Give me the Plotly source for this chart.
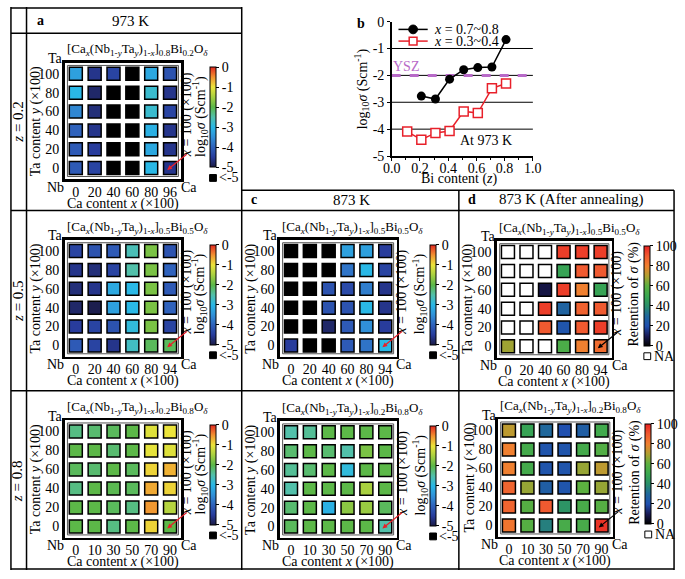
import plotly.graph_objects as go

W, H = 685, 579
FONT = "Liberation Serif"

# ---------------- data ----------------
ta_labels = ["0", "20", "40", "60", "80", "100"]            # Ta content y (x100), bottom -> top
ca_labels_z02 = ["0", "20", "40", "60", "80", "96"]         # Ca content x (x100)
ca_labels_z05 = ["0", "20", "40", "60", "80", "94"]
ca_labels_z08 = ["0", "10", "30", "50", "70", "90"]

LOW = None   # log10(sigma) < -5  -> black cell
NA = None    # retention not available -> white cell

# rows listed from Ta = 100 (top) down to Ta = 0 (bottom)
logsig_973K_z02 = [
    [-3.3, -4.6, -4.4, LOW, -3.2, -4.2],
    [-3.0, -4.8, LOW, LOW, -2.8, -4.6],
    [-3.6, -4.7, LOW, LOW, -2.8, -4.4],
    [-4.0, -4.6, LOW, LOW, -3.1, -4.6],
    [-4.1, -4.5, LOW, LOW, -3.2, -4.6],
    [-4.1, -4.4, LOW, LOW, -3.0, -4.6],
]
logsig_973K_z05 = [
    [-4.4, -4.2, -4.1, -2.6, -1.8, -4.2],
    [-4.6, -4.7, -4.4, -2.5, -1.8, -4.0],
    [-4.7, -4.6, -3.2, -3.0, -1.8, -4.1],
    [-4.8, -4.95, -3.3, -3.0, -1.8, -4.0],
    [-4.5, -4.4, -4.2, -2.9, -1.8, -4.4],
    [-4.1, -4.4, -4.6, -2.7, -2.1, -2.1],
]
logsig_973K_z08 = [
    [-2.3, -2.2, -2.1, -2.0, -1.1, -1.0],
    [-2.0, -2.0, -2.2, -2.0, -1.05, -1.1],
    [-2.1, -2.2, -2.0, -2.1, -0.9, -0.7],
    [-2.3, -2.0, -2.05, -2.1, -0.65, -0.9],
    [-2.0, -2.0, -2.1, -2.3, -0.55, -1.4],
    [-2.0, -2.0, -2.3, -2.0, -0.9, -2.0],
]
logsig_873K_z05 = [
    [LOW, LOW, LOW, -3.3, -3.3, -4.5],
    [LOW, LOW, LOW, -3.8, -3.0, -4.4],
    [LOW, LOW, -4.2, -4.3, -3.7, -4.6],
    [LOW, LOW, -4.2, -4.2, -3.0, -4.6],
    [LOW, LOW, -4.8, -4.1, -3.5, -4.5],
    [-4.5, LOW, LOW, -4.1, -3.8, -3.0],
]
logsig_873K_z08 = [
    [-2.5, -2.4, -2.0, -2.0, -2.0, -2.0],
    [-2.2, -2.0, -2.2, -2.5, -1.8, -2.0],
    [-2.4, -2.2, -2.0, -2.9, -2.0, -2.0],
    [-2.5, -2.0, -2.0, -2.0, -1.5, -2.0],
    [-2.2, -2.0, -3.1, -1.7, -1.6, -2.1],
    [-2.1, -2.0, -2.0, -2.0, -2.0, -2.5],
]
retention_873K_z05 = [
    [NA, NA, NA, 95, 95, 95],
    [NA, NA, NA, 48, 90, 90],
    [NA, NA, 8, 95, 80, 48],
    [NA, NA, 95, 28, 88, 90],
    [NA, NA, 90, 22, 90, 95],
    [68, NA, NA, 55, 80, 85],
]
retention_873K_z08 = [
    [72, 48, 30, 20, 26, 52],
    [80, 53, 22, 22, 53, 57],
    [80, 53, 22, 22, 67, 72],
    [87, 67, 26, 22, 60, 67],
    [87, 58, 90, 42, 54, 58],
    [83, 58, 36, 54, 54, 97],
]

bi_z_high_ca = [0.21, 0.31, 0.41, 0.51, 0.61, 0.71, 0.81]
logsig_high_ca = [-2.77, -2.88, -2.14, -1.79, -1.71, -1.69, -0.67]
bi_z_low_ca = [0.11, 0.21, 0.31, 0.41, 0.51, 0.61, 0.71, 0.81]
logsig_low_ca = [-4.09, -4.39, -4.14, -4.07, -3.34, -3.40, -2.48, -2.30]
ysz_logsig = -2.0
ysz_z_span = [0.0, 1.0]

log_ticks = [0, -1, -2, -3, -4, -5]
ret_ticks = [100, 80, 60, 40, 20, 0]

# ---------------- styling ----------------
LOG_SCALE = [
    [0.0, "#1b1b45"], [0.1, "#283c9c"], [0.2, "#2f62bc"], [0.3, "#3090d8"],
    [0.4, "#2ab8e6"], [0.5, "#52c0aa"], [0.6, "#5cb848"], [0.7, "#a8d040"],
    [0.8, "#ece43a"], [0.9, "#f29030"], [1.0, "#e42820"],
]
RET_SCALE = [
    [0.0, "#000000"], [0.1, "#1a1a55"], [0.2, "#2050b0"], [0.3, "#20689c"],
    [0.4, "#2a8f6a"], [0.5, "#3aa850"], [0.6, "#5cb040"], [0.7, "#b0a030"],
    [0.8, "#f08030"], [0.9, "#f05a30"], [1.0, "#e82222"],
]
RED = "#e8202a"
PURPLE = "#b86ac8"


def px(x):
    return x / W


def py(y):
    return 1 - y / H


def formula(a, b):
    return ("[Ca<sub><i>x</i></sub>(Nb<sub>1-<i>y</i></sub>Ta<sub><i>y</i></sub>)"
            f"<sub>1-<i>x</i></sub>]<sub>{a}</sub>Bi<sub>{b}</sub>O<sub><i>δ</i></sub>")


panels = [
    dict(frame=(57, 57, 177, 177), ca=ca_labels_z02, grid=logsig_973K_z02, kind="log", f=("0.8", "0.2"), cbo=29, arrow="red"),
    dict(frame=(57, 239, 177, 359), ca=ca_labels_z05, grid=logsig_973K_z05, kind="log", f=("0.5", "0.5"), cbo=29, arrow="red"),
    dict(frame=(57, 424, 177, 545), ca=ca_labels_z08, grid=logsig_973K_z08, kind="log", f=("0.2", "0.8"), cbo=29, arrow="red"),
    dict(frame=(278, 239, 398, 359), ca=ca_labels_z05, grid=logsig_873K_z05, kind="log", f=("0.5", "0.5"), cbo=34, arrow="red"),
    dict(frame=(278, 425, 398, 545), ca=ca_labels_z08, grid=logsig_873K_z08, kind="log", f=("0.2", "0.8"), cbo=34, arrow="red"),
    dict(frame=(501, 240, 619, 360), ca=ca_labels_z05, grid=retention_873K_z05, kind="ret", f=("0.5", "0.5"), cbo=33, arrow="black"),
    dict(frame=(502, 423, 620, 544), ca=ca_labels_z08, grid=retention_873K_z08, kind="ret", f=("0.2", "0.8"), cbo=33, arrow="black"),
]

fig = go.Figure()
layout = dict(
    width=W, height=H, margin=dict(l=0, r=0, t=0, b=0),
    paper_bgcolor="white", plot_bgcolor="white",
    font=dict(family=FONT, size=14, color="black"),
    showlegend=False,
)
annotations = []
shapes = []


def ann(text, x, y, size=14, angle=0, color="black", **kw):
    d = dict(text=text, x=px(x), y=py(y), xref="paper", yref="paper", showarrow=False,
             font=dict(family=FONT, size=size, color=color), textangle=angle,
             xanchor="center", yanchor="middle")
    d.update(kw)
    annotations.append(d)


def line(x0, y0, x1, y1, w=1.5, color="black"):
    shapes.append(dict(type="line", xref="paper", yref="paper", x0=px(x0), y0=py(y0),
                       x1=px(x1), y1=py(y1), line=dict(color=color, width=w)))


RANGE = [-0.6, 5.6]
for i, p in enumerate(panels):
    n = i + 1
    sfx = "" if n == 1 else str(n)
    fl, ft, fr, fb = p["frame"]
    cx, cy = (fl + fr) / 2, (ft + fb) / 2
    ax_common = dict(range=RANGE, showline=True, mirror=True, linecolor="black", linewidth=2.5,
                     ticks="", showgrid=False, zeroline=False, fixedrange=True,
                     tickfont=dict(family=FONT, size=14, color="black"), tickvals=list(range(6)))
    layout["xaxis" + sfx] = dict(ax_common, domain=[px(fl), px(fr)], anchor="y" + sfx,
                                 ticktext=p["ca"], ticklabelstandoff=-2)
    layout["yaxis" + sfx] = dict(ax_common, domain=[py(fb), py(ft)], anchor="x" + sfx,
                                 ticktext=ta_labels, ticklabelstandoff=0)
    # cells
    g = p["grid"]
    xs, ys, vs, xo, yo = [], [], [], [], []
    for r, row in enumerate(g):
        for c, v in enumerate(row):
            yi = len(g) - 1 - r
            if v is None:
                xo.append(c); yo.append(yi)
            else:
                xs.append(c); ys.append(yi); vs.append(v)
    caxis = "coloraxis" + sfx
    fig.add_trace(go.Scatter(x=xs, y=ys, mode="markers", xaxis="x" + sfx, yaxis="y" + sfx,
                             marker=dict(symbol="square", size=13, color=vs, coloraxis=caxis,
                                         line=dict(color="black", width=1.5)),
                             showlegend=False, hoverinfo="skip"))
    offc = "black" if p["kind"] == "log" else "white"
    fig.add_trace(go.Scatter(x=xo, y=yo, mode="markers", xaxis="x" + sfx, yaxis="y" + sfx,
                             marker=dict(symbol="square", size=13, color=offc,
                                         line=dict(color="black", width=1.5)),
                             showlegend=False, hoverinfo="skip"))
    # colour axis
    cbl = fr + p["cbo"]
    cbt = ft + 5
    if p["kind"] == "log":
        cs, cmin, cmax, tv = LOG_SCALE, -5, 0, log_ticks
        cblabel = "log<sub>10</sub><i>σ</i> (Scm<sup>-1</sup>)"
        legtxt, legfill = "<-5", "black"
    else:
        cs, cmin, cmax, tv = RET_SCALE, 0, 100, ret_ticks
        cblabel = "Retention of <i>σ</i> (%)"
        legtxt, legfill = "NA", "white"
    layout[caxis] = dict(
        colorscale=cs, cmin=cmin, cmax=cmax,
        colorbar=dict(x=px(cbl), xanchor="left", y=py(cbt), yanchor="top",
                      len=100, lenmode="pixels", thickness=6, thicknessmode="pixels",
                      xpad=0, ypad=0, outlinewidth=1, outlinecolor="black",
                      ticks="outside", ticklen=3, tickwidth=1, tickcolor="black",
                      tickvals=tv, ticktext=[str(t) for t in tv],
                      tickfont=dict(family=FONT, size=14, color="black")))
    # frame inner thin line
    shapes.append(dict(type="rect", xref="x" + sfx + " domain", yref="y" + sfx + " domain",
                       x0=0.025, x1=0.975, y0=0.025, y1=0.975,
                       line=dict(color="#555555", width=1)))
    # legend square for <-5 / NA
    shapes.append(dict(type="rect", xref="paper", yref="paper", x0=px(cbl), x1=px(cbl + 7),
                       y0=py(ft + 122), y1=py(ft + 115), fillcolor=legfill,
                       line=dict(color="black", width=1)))
    ann(legtxt, cbl + 8, ft + 118.5, xanchor="left")
    # texts
    ann(formula(*p["f"]), fl + 75, ft - 13, size=13)
    ann("Ta", fl - 9, ft - 4)
    ann("Nb", fl - 9, fb + 8)
    ann("Ca", fr + 8, fb + 8)
    ann("Ca content <i>x</i> (×100)", cx, fb + 25)
    ann("Ta content <i>y</i> (×100)", fl - 29, cy, angle=-90)
    ann("<i>x</i> = 100 (×100)", fr + 6, cy - 6, angle=-90)
    ann(cblabel, cbl - 10, cbt + 50, angle=-90)
    # arrow pointing at the Ca-rich corner cell
    annotations.append(dict(text="", x=4.85, y=-0.1, xref="x" + sfx, yref="y" + sfx,
                            showarrow=True, ax=21, ay=-17, arrowhead=2, arrowsize=0.8,
                            arrowwidth=1.2, arrowcolor=RED if p["arrow"] == "red" else "black"))

# ---------------- panel b ----------------
fig.add_trace(go.Scatter(x=ysz_z_span, y=[ysz_logsig] * 2, mode="lines", xaxis="x8", yaxis="y8",
                         line=dict(color=PURPLE, width=3, dash="dash"),
                         showlegend=False, hoverinfo="skip"))
fig.add_trace(go.Scatter(x=bi_z_high_ca, y=logsig_high_ca, mode="lines+markers", xaxis="x8", yaxis="y8",
                         name="x = 0.7~0.8", line=dict(color="black", width=1.5),
                         marker=dict(symbol="circle", size=9, color="black"), hoverinfo="skip"))
fig.add_trace(go.Scatter(x=bi_z_low_ca, y=logsig_low_ca, mode="lines+markers", xaxis="x8", yaxis="y8",
                         name="x = 0.3~0.4", line=dict(color=RED, width=1.5),
                         marker=dict(symbol="square", size=9, color="white",
                                     line=dict(width=1.5, color=RED)), hoverinfo="skip"))
layout["xaxis8"] = dict(domain=[px(393), px(538)], anchor="y8", range=[0, 1],
                        showline=True, linecolor="black", linewidth=1.5, mirror=False,
                        ticks="outside", ticklen=3, tickcolor="black",
                        tickvals=[0, 0.2, 0.4, 0.6, 0.8, 1.0],
                        ticktext=["0.0", "0.2", "0.4", "0.6", "0.8", "1.0"],
                        minor=dict(ticks="outside", ticklen=2, dtick=0.1, tick0=0, tickcolor="black"),
                        showgrid=False, zeroline=False, fixedrange=True, ticklabelstandoff=-4,
                        tickfont=dict(family=FONT, size=14, color="black"))
layout["yaxis8"] = dict(domain=[py(153), py(15)], anchor="x8", range=[-5, 0],
                        showline=True, linecolor="black", linewidth=1.5,
                        ticks="outside", ticklen=3, tickcolor="black",
                        tickvals=log_ticks, ticktext=[str(t) for t in log_ticks],
                        showgrid=False, zeroline=False, fixedrange=True,
                        tickfont=dict(family=FONT, size=14, color="black"))
for gy in [-1, -2, -3, -4]:
    shapes.append(dict(type="line", xref="x8 domain", yref="y8", x0=0, x1=1, y0=gy, y1=gy,
                       line=dict(color="black", width=1), layer="below"))
# legend of panel b (key glyphs + labels)
for ly, col, sym in [(23, "black", "circle"), (35, RED, "square")]:
    line(400, ly, 430, ly, w=1.5, color=col)
    if sym == "circle":
        shapes.append(dict(type="circle", xref="paper", yref="paper", x0=px(410.5), x1=px(419.5),
                           y0=py(ly + 4.5), y1=py(ly - 4.5), fillcolor="black",
                           line=dict(color="black", width=1)))
    else:
        shapes.append(dict(type="rect", xref="paper", yref="paper", x0=px(411), x1=px(419),
                           y0=py(ly + 4), y1=py(ly - 4), fillcolor="white",
                           line=dict(color=RED, width=1.5)))
ann("<i>x</i> = 0.7~0.8", 434, 23, xanchor="left")
ann("<i>x</i> = 0.3~0.4", 434, 35, xanchor="left")
ann("<b>b</b>", 362, 17, size=14)
ann("YSZ", 408, 61, color=PURPLE)
ann("At 973 K", 490, 137)
ann("log<sub>10</sub><i>σ</i> (Scm<sup>-1</sup>)", 362, 84, angle=-90)
ann("Bi content (<i>z</i>)", 463, 177)

# ---------------- table frame & headers ----------------
line(2, 0, 2, 578)
line(18, 0, 18, 578)
line(239, 0, 239, 578)
line(462, 188, 462, 578)
line(683, 188, 683, 578)
line(2, 1, 239, 1)
line(2, 27, 239, 27)
line(239, 188, 683, 188)
line(2, 209, 683, 209)
line(2, 394, 683, 394)
line(2, 577, 683, 577)

ann("<b>a</b>", 32, 14, size=14)
ann("973 K", 125, 14, size=15)
ann("<b>c</b>", 252, 198, size=14)
ann("873 K", 352, 198, size=15)
ann("<b>d</b>", 475, 198, size=14)
ann("873 K (After annealing)", 578, 198, size=15)
ann("<i>z</i> = 0.2", 9, 118, angle=-90, size=15)
ann("<i>z</i> = 0.5", 9, 302, angle=-90, size=15)
ann("<i>z</i> = 0.8", 9, 487, angle=-90, size=15)

layout["annotations"] = annotations
layout["shapes"] = shapes
fig.update_layout(**layout)

fig.write_html("out.html", config={"displayModeBar": False, "staticPlot": True},
               post_script="document.body.style.margin='0';document.body.style.overflow='hidden';")
